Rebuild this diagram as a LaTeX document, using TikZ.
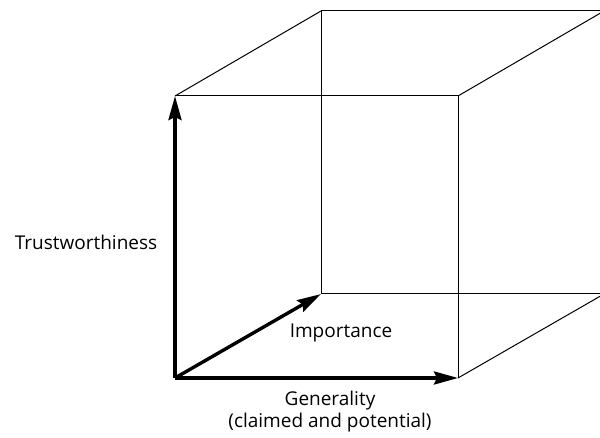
\documentclass[tikz,border=0pt]{standalone}
\usepackage{fontspec}
\setmainfont{Open Sans}
\usetikzlibrary{arrows.meta,positioning}

\begin{document}
\begin{tikzpicture}[x=1pt,y=-1pt,
    edge/.style={line width=1pt},
    axis/.style={line width=3.4pt,-{Stealth[length=24pt,width=13pt,inset=3pt]}},
    lbl/.style={font=\fontsize{19}{22}\selectfont,align=center,inner sep=0pt}]
    \useasboundingbox (0,0) rectangle (600,438);

    % front face corners
    \coordinate (o) at (175,378);
    \coordinate (ftl) at (175,96);
    \coordinate (ftr) at (458,96);
    \coordinate (fbr) at (458,378);
    % back face corners
    \coordinate (bbl) at (321,294);
    \coordinate (btl) at (321,11);
    \coordinate (btr) at (604,11);
    \coordinate (bbr) at (604,294);

    \draw[edge] (ftl) -- (ftr) -- (fbr);
    \draw[edge] (btl) -- (btr) -- (bbr) -- (bbl) -- cycle;
    \draw[edge] (ftl) -- (btl);
    \draw[edge] (ftr) -- (btr);
    \draw[edge] (fbr) -- (bbr);

    \draw[axis] (o) -- (ftl);
    \draw[axis] (o) -- (fbr);
    \draw[axis] (o) -- (bbl);

    \node[lbl] (trust) at (86,242) {Trustworthiness};
    \node[lbl] (imp) at (341,333) {Importance};
    \node[lbl] (gen) at (330,412) {Generality\\(claimed and potential)};
\end{tikzpicture}
\end{document}
